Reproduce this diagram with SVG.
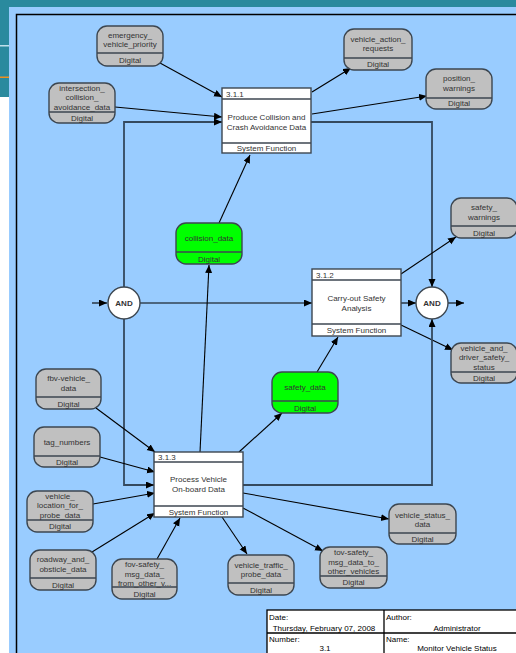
<svg xmlns="http://www.w3.org/2000/svg" width="516" height="653" viewBox="0 0 516 653">
<style>
text{font-family:"Liberation Sans",Arial,sans-serif;font-size:8px;fill:#333;text-anchor:middle}
.lt{text-anchor:start}
.fl{fill:#c0c0c0;stroke:#3c4650;stroke-width:1.4}
.gr{fill:#00ff00;stroke:#3c4650;stroke-width:1.4}
.dv{stroke:#3c4650;stroke-width:1.4}
.pb{fill:#fff;stroke:#3c4650;stroke-width:1.4}
.c{fill:none;stroke:#000;stroke-width:1.1;marker-end:url(#ah)}
.sa{fill:none;stroke:#34495e;stroke-width:1.8;marker-end:url(#ah)}
.and{fill:#fff;stroke:#3c4650;stroke-width:1.4}
.bk{fill:#000}
</style>
<defs>
<marker id="ah" markerUnits="userSpaceOnUse" markerWidth="9" markerHeight="8" refX="8" refY="3.5" orient="auto">
<path d="M0,0 L8,3.5 L0,7 z" fill="#000"/>
</marker>
</defs>
<rect x="0" y="0" width="516" height="653" fill="#fff"/>
<rect x="0" y="0" width="516" height="7" fill="#2a8a9e"/>
<rect x="0" y="0" width="9" height="97" fill="#2a8a9e"/>
<rect x="0" y="45" width="9" height="1.5" fill="#bfe0ea"/>
<rect x="0" y="76.5" width="9" height="1.5" fill="#f0901e"/>
<rect x="9" y="7" width="507" height="646" fill="#99ccff"/>
<path d="M16.5,653 V14.5 H516" fill="none" stroke="#000" stroke-width="1.5"/>

<g id="connectors">
<path class="c" d="M160,63 L222,97"/>
<path class="c" d="M115,107 L222,117"/>
<path class="sa" d="M124,287 V122 H222"/>
<path class="c" d="M312,92 L351,68"/>
<path class="c" d="M312,114 L427,96"/>
<path class="sa" d="M311,122 H432 V287"/>
<path class="c" d="M92,303 H107"/>
<path class="c" d="M140,303 H312"/>
<path class="c" d="M401,303 H416"/>
<path class="c" d="M448,303 H464"/>
<path class="c" d="M401,274 L456,237"/>
<path class="c" d="M401,325 L453,350"/>
<path class="c" d="M219,223 L250,155"/>
<path class="c" d="M200,452 L209,265"/>
<path class="c" d="M239,452 L282,413"/>
<path class="c" d="M317,372 L338,337"/>
<path class="sa" d="M243,485 H432 V319"/>
<path class="sa" d="M124,319 V485 H154"/>
<path class="c" d="M96,408 L155,452"/>
<path class="c" d="M100,457 L155,472"/>
<path class="c" d="M93,504 L155,493"/>
<path class="c" d="M92,552 L155,513"/>
<path class="c" d="M157,559 L180,518"/>
<path class="c" d="M222,517 L247,554"/>
<path class="c" d="M243,508 L323,551"/>
<path class="c" d="M243,493 L389,519"/>
</g>

<g id="emergency_vehicle_priority">
<rect class="fl" x="97" y="26" width="66" height="40" rx="10"/>
<line class="dv" x1="97" y1="53" x2="163" y2="53"/>
<text x="130" y="38">emergency_</text>
<text x="130" y="47">vehicle_priority</text>
<text x="130" y="63">Digital</text>
</g>
<g id="intersection_collision_avoidance_data">
<rect class="fl" x="49" y="83" width="66" height="40" rx="10"/>
<line class="dv" x1="49" y1="112" x2="115" y2="112"/>
<text x="82" y="91">intersection_</text>
<text x="82" y="100">collision_</text>
<text x="82" y="110">avoidance_data</text>
<text x="82" y="121">Digital</text>
</g>
<g id="vehicle_action_requests">
<rect class="fl" x="344" y="29" width="68" height="41" rx="10"/>
<line class="dv" x1="344" y1="58" x2="412" y2="58"/>
<text x="378" y="42">vehicle_action_</text>
<text x="378" y="51">requests</text>
<text x="378" y="67">Digital</text>
</g>
<g id="position_warnings">
<rect class="fl" x="426" y="69" width="66" height="40" rx="10"/>
<line class="dv" x1="426" y1="98" x2="492" y2="98"/>
<text x="459" y="81">position_</text>
<text x="459" y="91">warnings</text>
<text x="459" y="106">Digital</text>
</g>
<g id="p311">
<rect class="pb" x="222" y="88" width="89" height="65"/>
<line class="dv" x1="222" y1="99" x2="311" y2="99"/>
<line class="dv" x1="222" y1="143" x2="311" y2="143"/>
<text class="lt" x="226" y="97">3.1.1</text>
<text x="266.5" y="120">Produce Collision and</text>
<text x="266.5" y="130">Crash Avoidance Data</text>
<text x="266.5" y="151">System Function</text>
</g>
<g id="collision_data">
<rect class="gr" x="176" y="223" width="66" height="41" rx="10"/>
<line class="dv" x1="176" y1="252" x2="242" y2="252"/>
<text x="209" y="241">collision_data</text>
<text x="209" y="262">Digital</text>
</g>
<g id="and_left">
<circle class="and" cx="124" cy="303" r="16"/>
<text x="124" y="306" style="font-weight:bold">AND</text>
</g>
<g id="p312">
<rect class="pb" x="312" y="269" width="89" height="67"/>
<line class="dv" x1="312" y1="280" x2="401" y2="280"/>
<line class="dv" x1="312" y1="324" x2="401" y2="324"/>
<text class="lt" x="316" y="278">3.1.2</text>
<text x="356.5" y="301">Carry-out Safety</text>
<text x="356.5" y="311">Analysis</text>
<text x="356.5" y="333">System Function</text>
</g>
<g id="and_right">
<circle class="and" cx="432" cy="303" r="16"/>
<text x="432" y="306" style="font-weight:bold">AND</text>
</g>
<g id="safety_warnings">
<rect class="fl" x="451" y="198" width="66" height="40" rx="10"/>
<line class="dv" x1="451" y1="226" x2="517" y2="226"/>
<text x="484" y="210">safety_</text>
<text x="484" y="220">warnings</text>
<text x="484" y="236">Digital</text>
</g>
<g id="vehicle_and_driver_safety_status">
<rect class="fl" x="451" y="343" width="66" height="40" rx="10"/>
<line class="dv" x1="451" y1="372" x2="517" y2="372"/>
<text x="484" y="351">vehicle_and_</text>
<text x="484" y="360">driver_safety_</text>
<text x="484" y="370">status</text>
<text x="484" y="381">Digital</text>
</g>
<g id="safety_data">
<rect class="gr" x="272" y="372" width="66" height="41" rx="10"/>
<line class="dv" x1="272" y1="401" x2="338" y2="401"/>
<text x="305" y="390">safety_data</text>
<text x="305" y="411">Digital</text>
</g>
<g id="fbv-vehicle_data">
<rect class="fl" x="36" y="369" width="65" height="40" rx="10"/>
<line class="dv" x1="36" y1="397" x2="101" y2="397"/>
<text x="68.5" y="381">fbv-vehicle_</text>
<text x="68.5" y="391">data</text>
<text x="68.5" y="407">Digital</text>
</g>
<g id="tag_numbers">
<rect class="fl" x="34" y="427" width="66" height="40" rx="10"/>
<line class="dv" x1="34" y1="456" x2="100" y2="456"/>
<text x="67" y="445">tag_numbers</text>
<text x="67" y="465">Digital</text>
</g>
<g id="p313">
<rect class="pb" x="154" y="452" width="89" height="65"/>
<line class="dv" x1="154" y1="462" x2="243" y2="462"/>
<line class="dv" x1="154" y1="506" x2="243" y2="506"/>
<text class="lt" x="158" y="460">3.1.3</text>
<text x="198.5" y="482">Process Vehicle</text>
<text x="198.5" y="492">On-board Data</text>
<text x="198.5" y="515">System Function</text>
</g>
<g id="vehicle_location_for_probe_data">
<rect class="fl" x="27" y="491" width="66" height="41" rx="10"/>
<line class="dv" x1="27" y1="520" x2="93" y2="520"/>
<text x="60" y="499">vehicle_</text>
<text x="60" y="508">location_for_</text>
<text x="60" y="518">probe_data</text>
<text x="60" y="529">Digital</text>
</g>
<g id="roadway_and_obsticle_data">
<rect class="fl" x="30" y="550" width="66" height="40" rx="10"/>
<line class="dv" x1="30" y1="578" x2="96" y2="578"/>
<text x="63" y="562">roadway_and_</text>
<text x="63" y="572">obsticle_data</text>
<text x="63" y="588">Digital</text>
</g>
<g id="fov-safety_msg_data_from_other_vehicles">
<rect class="fl" x="112" y="559" width="65" height="40" rx="10"/>
<line class="dv" x1="112" y1="587" x2="177" y2="587"/>
<text x="144.5" y="567">fov-safety_</text>
<text x="144.5" y="577">msg_data_</text>
<text x="144.5" y="586">from_other_v...</text>
<text x="144.5" y="597">Digital</text>
</g>
<g id="vehicle_traffic_probe_data">
<rect class="fl" x="228" y="555" width="66" height="40" rx="10"/>
<line class="dv" x1="228" y1="583" x2="294" y2="583"/>
<text x="261" y="568">vehicle_traffic_</text>
<text x="261" y="577">probe_data</text>
<text x="261" y="593">Digital</text>
</g>
<g id="tov-safety_msg_data_to_other_vehicles">
<rect class="fl" x="320" y="547" width="67" height="41" rx="10"/>
<line class="dv" x1="320" y1="576" x2="387" y2="576"/>
<text x="353.5" y="555">tov-safety_</text>
<text x="353.5" y="565">msg_data_to_</text>
<text x="353.5" y="574">other_vehicles</text>
<text x="353.5" y="585">Digital</text>
</g>
<g id="vehicle_status_data">
<rect class="fl" x="389" y="504" width="67" height="40" rx="10"/>
<line class="dv" x1="389" y1="533" x2="456" y2="533"/>
<text x="422.5" y="518">vehicle_status_</text>
<text x="422.5" y="527">data</text>
<text x="422.5" y="542">Digital</text>
</g>
<g id="title_block">
<rect x="267" y="610" width="270" height="50" fill="#fff" stroke="#000" stroke-width="1.3"/>
<line x1="267" y1="633" x2="537" y2="633" stroke="#000" stroke-width="1.3"/>
<line x1="384" y1="610" x2="384" y2="660" stroke="#000" stroke-width="1.3"/>
<text class="lt bk" x="269" y="620">Date:</text>
<text class="bk" x="324" y="631">Thursday, February 07, 2008</text>
<text class="lt bk" x="386" y="620">Author:</text>
<text class="bk" x="457" y="631">Administrator</text>
<text class="lt bk" x="269" y="642">Number:</text>
<text class="bk" x="325" y="651">3.1</text>
<text class="lt bk" x="386" y="642">Name:</text>
<text class="bk" x="457" y="651">Monitor Vehicle Status</text>
</g>
</svg>
